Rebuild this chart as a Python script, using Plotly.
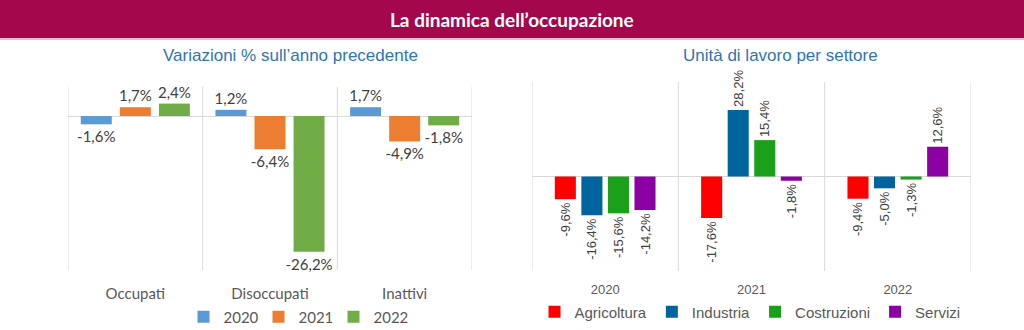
import plotly.graph_objects as go

# ---- data: left chart ----
left_categories = ["Occupati", "Disoccupati", "Inattivi"]
left_years = ["2020", "2021", "2022"]
left_values = {
    "2020": [-1.6, 1.2, 1.7],
    "2021": [1.7, -6.4, -4.9],
    "2022": [2.4, -26.2, -1.8],
}
left_colors = {"2020": "#5B9BD5", "2021": "#ED7D31", "2022": "#70AD47"}

# ---- data: right chart ----
right_categories = ["2020", "2021", "2022"]
right_sectors = ["Agricoltura", "Industria", "Costruzioni", "Servizi"]
right_values = {
    "Agricoltura": [-9.6, -17.6, -9.4],
    "Industria": [-16.4, 28.2, -5.0],
    "Costruzioni": [-15.6, 15.4, -1.3],
    "Servizi": [-14.2, -1.8, 12.6],
}
right_colors = {"Agricoltura": "#FF0000", "Industria": "#00659F",
                "Costruzioni": "#1AA01A", "Servizi": "#8B00A3"}


def fmt(v):
    return f"{v:.1f}%".replace(".", ",")


W, H = 1024, 330
fig = go.Figure()

LAB = "#404040"
# left: slot and bar width in category units
L_SLOT, L_BAR = 0.29, 0.23
n = len(left_years)
for i, yr in enumerate(left_years):
    vals = left_values[yr]
    center = (i - (n - 1) / 2) * L_SLOT
    fig.add_trace(go.Bar(
        x=left_categories, y=vals, name=yr,
        width=L_BAR, offset=center - L_BAR / 2,
        marker=dict(color=left_colors[yr], line=dict(width=0)),
        text=[fmt(v) for v in vals], textposition="outside",
        textfont=dict(family="Lato", size=15, color=LAB),
        constraintext="none", cliponaxis=False,
        xaxis="x", yaxis="y", legend="legend",
    ))

R_SLOT, R_BAR = 0.1815, 0.144
m = len(right_sectors)
for i, s in enumerate(right_sectors):
    vals = right_values[s]
    center = (i - (m - 1) / 2) * R_SLOT
    fig.add_trace(go.Bar(
        x=right_categories, y=vals, name=s,
        width=R_BAR, offset=center - R_BAR / 2,
        marker=dict(color=right_colors[s], line=dict(width=0)),
        text=[fmt(v) for v in vals], textposition="outside", textangle=-90,
        textfont=dict(family="Liberation Sans", size=13, color=LAB),
        constraintext="none", cliponaxis=False,
        xaxis="x2", yaxis="y2", legend="legend2",
    ))

shapes = [
    dict(type="rect", xref="paper", yref="paper", x0=0, x1=1,
         y0=1 - 38 / H, y1=1, fillcolor="#A2084B", line=dict(width=0), layer="below"),
    dict(type="line", xref="paper", yref="paper", x0=0, x1=1,
         y0=1 - 39 / H, y1=1 - 39 / H, line=dict(color="#E9A3C2", width=1.5)),
]
for xr, yr in (("x", "y domain"), ("x2", "y2 domain")):
    for b in (-0.5, 0.5, 1.5, 2.5):
        shapes.append(dict(type="line", xref=xr, yref=yr, x0=b, x1=b, y0=0, y1=1,
                           line=dict(color="#D9D9D9", width=1), layer="below"))

annotations = [
    dict(text="<b>La dinamica dell’occupazione</b>", xref="paper", yref="paper",
         x=0.5, y=1 - 19 / H, xanchor="center", yanchor="middle", showarrow=False,
         font=dict(family="Lato", size=19, color="white")),
    dict(text="Variazioni % sull’anno precedente", xref="paper", yref="paper",
         x=290 / W, y=1 - 56 / H, xanchor="center", yanchor="middle", showarrow=False,
         font=dict(family="Liberation Sans", size=17, color="#2E75B6")),
    dict(text="Unità di lavoro per settore", xref="paper", yref="paper",
         x=780 / W, y=1 - 56 / H, xanchor="center", yanchor="middle", showarrow=False,
         font=dict(family="Liberation Sans", size=17, color="#2E75B6")),
]

fig.update_layout(
    width=W, height=H,
    margin=dict(l=0, r=0, t=0, b=0, autoexpand=False),
    paper_bgcolor="white", plot_bgcolor="white",
    barmode="overlay",
    shapes=shapes, annotations=annotations,
    xaxis=dict(domain=[68 / W, 472 / W], range=[-0.5, 2.5], showgrid=False, showline=False,
               ticks="", ticklabelstandoff=13,
               tickfont=dict(family="Lato", size=15, color="#595959")),
    yaxis=dict(domain=[1 - 270 / H, 1 - 87 / H], range=[-29.7, 5.6],
               showgrid=False, showticklabels=False, zeroline=True,
               zerolinecolor="#D9D9D9", zerolinewidth=1),
    xaxis2=dict(domain=[532 / W, 971 / W], range=[-0.5, 2.5], showgrid=False, showline=False,
                ticks="", ticklabelstandoff=10,
                tickfont=dict(family="Liberation Sans", size=13, color="#595959")),
    yaxis2=dict(domain=[1 - 271 / H, 1 - 82 / H], range=[-40, 40],
                showgrid=False, showticklabels=False, zeroline=True,
                zerolinecolor="#D9D9D9", zerolinewidth=1),
    legend=dict(orientation="h", x=296 / W, y=1 - 317 / H, xanchor="center",
                yanchor="middle", font=dict(family="Lato", size=15, color="#595959"),
                itemwidth=30, entrywidth=30, bgcolor="rgba(0,0,0,0)"),
    legend2=dict(orientation="h", x=750 / W, y=1 - 312 / H, xanchor="center",
                 yanchor="middle", font=dict(family="Liberation Sans", size=15, color="#595959"),
                 itemwidth=30, bgcolor="rgba(0,0,0,0)"),
    showlegend=True,
)

fig.write_html("out.html")
